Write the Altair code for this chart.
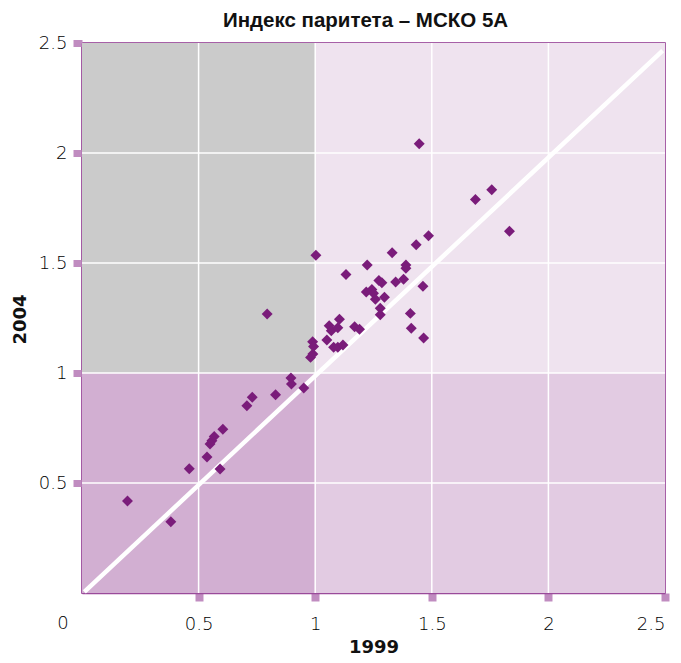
import altair as alt
import pandas as pd

# Data
x1999 = [0.195, 0.381, 0.46, 0.536, 0.549, 0.557, 0.567, 0.592, 0.604, 0.707, 0.73,
         0.794, 0.83, 0.896, 0.898, 0.951, 0.98, 0.99, 0.989, 0.993, 1.003, 1.05,
         1.06, 1.069, 1.097, 1.079, 1.097, 1.119, 1.104, 1.132, 1.169, 1.19, 1.219,
         1.223, 1.243, 1.25, 1.258, 1.273, 1.286, 1.279, 1.279, 1.297, 1.33, 1.345,
         1.379, 1.389, 1.389, 1.408, 1.412, 1.433, 1.446, 1.462, 1.465, 1.486,
         1.687, 1.757, 1.833]
y2004 = [0.418, 0.324, 0.565, 0.618, 0.677, 0.692, 0.711, 0.564, 0.744, 0.851, 0.89,
         1.268, 0.901, 0.977, 0.95, 0.932, 1.071, 1.086, 1.142, 1.12, 1.535, 1.15,
         1.215, 1.192, 1.206, 1.117, 1.117, 1.127, 1.244, 1.448, 1.21, 1.199, 1.368,
         1.491, 1.38, 1.362, 1.335, 1.42, 1.41, 1.294, 1.265, 1.344, 1.547, 1.414,
         1.426, 1.491, 1.476, 1.271, 1.203, 1.583, 2.042, 1.394, 1.159, 1.624,
         1.789, 1.833, 1.644]

# Quadrant backgrounds (x range, y range, colour)
quad_x = [0, 1, 0, 1]
quad_x2 = [1, 2.5, 1, 2.5]
quad_y = [1, 1, 0, 0]
quad_y2 = [2.5, 2.5, 1, 1]
quad_color = ["#cbcbcb", "#efe3ef", "#d2afd2", "#e2cbe2"]

grid_vals = [0.5, 1, 1.5, 2]
tick_vals = [0.5, 1, 1.5, 2, 2.5]
diag_x = [0.01, 2.49]
diag_y = [0.005, 2.465]

points = pd.DataFrame({"x": x1999, "y": y2004})
quads = pd.DataFrame({"x": quad_x, "x2": quad_x2, "y": quad_y, "y2": quad_y2, "c": quad_color})
grid = pd.DataFrame({"v": grid_vals})
diag = pd.DataFrame({"x": diag_x, "y": diag_y})
origin = pd.DataFrame({"x": [0], "y": [0], "t": ["0"]})

LFONT = "DejaVu Sans"
LW = 300
LCOL = "#000000"
xs = alt.Scale(domain=[0, 2.5], nice=False, zero=True)
ys = alt.Scale(domain=[0, 2.5], nice=False, zero=True)

x_axis = alt.Axis(values=tick_vals, grid=False, title="1999", domainColor="#9a4a9a", domainWidth=1.5,
                  tickColor="#c08cc0", tickSize=8, tickWidth=8, labelFont=LFONT, labelFontSize=18,
                  labelFontWeight=LW, labelColor=LCOL, labelPadding=23, labelBaseline="middle",
                  titleFont="DejaVu Sans", titleFontSize=18, titleFontWeight="bold", titleColor="#111111",
                  titleY=59, titleBaseline="alphabetic", labelExpr="datum.value")
y_axis = alt.Axis(values=tick_vals, grid=False, title="2004", domainColor="#9a4a9a", domainWidth=1.5,
                  tickColor="#c08cc0", tickSize=9, tickWidth=7, labelFont=LFONT, labelFontSize=18,
                  labelFontWeight=LW, labelColor=LCOL, labelPadding=6, labelBaseline="middle",
                  titleFont="DejaVu Sans", titleFontSize=18, titleFontWeight="bold", titleColor="#111111",
                  titleX=-62, titleY=276, titleBaseline="middle", titleAngle=-90, labelExpr="datum.value")

bg = alt.Chart(quads).mark_rect().encode(
    x=alt.X("x:Q", scale=xs, axis=x_axis), x2="x2:Q",
    y=alt.Y("y:Q", scale=ys, axis=y_axis), y2="y2:Q",
    color=alt.Color("c:N", scale=None, legend=None),
)
vgrid = alt.Chart(grid).mark_rule(color="white", strokeWidth=1.5).encode(
    x=alt.X("v:Q", scale=xs), y=alt.value(0), y2=alt.value(550))
hgrid = alt.Chart(grid).mark_rule(color="white", strokeWidth=1.5).encode(
    y=alt.Y("v:Q", scale=ys), x=alt.value(0), x2=alt.value(583))
line = alt.Chart(diag).mark_line(color="white", strokeWidth=4.5).encode(
    x=alt.X("x:Q", scale=xs), y=alt.Y("y:Q", scale=ys))
pts = alt.Chart(points).mark_point(shape="diamond", filled=True, size=120, color="#7a1c7a", opacity=1).encode(
    x=alt.X("x:Q", scale=xs), y=alt.Y("y:Q", scale=ys))
zero = alt.Chart(origin).mark_text(font=LFONT, fontSize=18, fontWeight=LW, color=LCOL, dx=-19, dy=31,
                                   baseline="middle").encode(
    x=alt.X("x:Q", scale=xs), y=alt.Y("y:Q", scale=ys), text="t:N")

chart = alt.layer(bg, vgrid, hgrid, line, pts, zero).properties(
    width=583, height=550,
    autosize=alt.AutoSizeParams(type="none"),
    padding={"left": 74, "top": 35, "right": 8, "bottom": 62},
    title=alt.TitleParams("Индекс паритета – МСКО 5А", font="Liberation Sans", fontSize=20.5,
                          fontWeight="bold", color="#111111", anchor="middle", offset=3, dx=-8),
).configure_view(stroke="#8a2c8a", strokeWidth=1.5)

chart.save("out.html", embed_options={"renderer": "svg", "actions": False})
